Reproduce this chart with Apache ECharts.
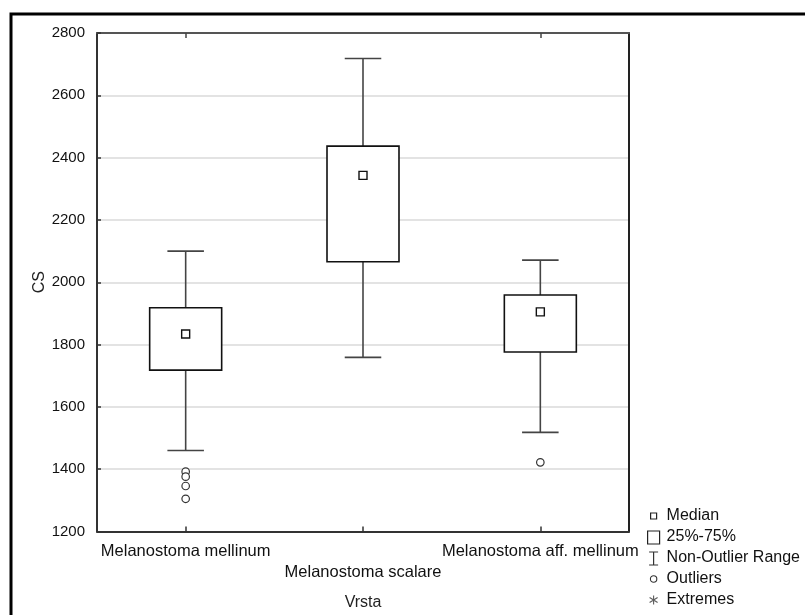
<!DOCTYPE html>
<html>
<head>
<meta charset="utf-8">
<script src="https://cdn.jsdelivr.net/npm/echarts@6/dist/echarts.min.js"></script>
<style>
html,body{margin:0;padding:0;background:#fff;}
#chart{width:805px;height:615px;}
</style>
</head>
<body>
<div id="chart"></div>
<script>
// ---- data ----
var categories = ['Melanostoma mellinum', 'Melanostoma scalare', 'Melanostoma aff. mellinum'];
var whiskerLow  = [1460, 1759, 1518];
var q1          = [1718, 2066, 1776];
var median      = [1834, 2343, 1905];
var q3          = [1918, 2437, 1959];
var whiskerHigh = [2100, 2718, 2071];
var outlierCat  = [0, 0, 0, 0, 2];
var outlierVal  = [1392, 1376, 1346, 1305, 1422];
var yMin = 1200, yMax = 2800, yStep = 200;
var legendNames = ['Median', '25%-75%', 'Non-Outlier Range', 'Outliers', 'Extremes'];

var FONT = '"Liberation Sans", Arial, sans-serif';

var boxData = categories.map(function (c, i) {
  return [i, whiskerLow[i], q1[i], q3[i], whiskerHigh[i]];
});
var medianData = categories.map(function (c, i) { return [i, median[i]]; });
var outlierData = outlierVal.map(function (v, i) { return [outlierCat[i], v]; });

function renderWhisker(params, api) {
  var x = api.value(0);
  var pLow = api.coord([x, api.value(1)]);
  var pQ1 = api.coord([x, api.value(2)]);
  var pQ3 = api.coord([x, api.value(3)]);
  var pHigh = api.coord([x, api.value(4)]);
  var band = api.size([1, 0])[0];
  var capHalf = band * 0.103;
  var st = { stroke: '#444', lineWidth: 1.6 };
  return {
    type: 'group',
    children: [
      { type: 'line', shape: { x1: pHigh[0], y1: pHigh[1], x2: pQ3[0], y2: pQ3[1] }, style: st },
      { type: 'line', shape: { x1: pHigh[0] - capHalf, y1: pHigh[1], x2: pHigh[0] + capHalf, y2: pHigh[1] }, style: st },
      { type: 'line', shape: { x1: pLow[0], y1: pLow[1], x2: pQ1[0], y2: pQ1[1] }, style: st },
      { type: 'line', shape: { x1: pLow[0] - capHalf, y1: pLow[1], x2: pLow[0] + capHalf, y2: pLow[1] }, style: st }
    ]
  };
}

function renderBox(params, api) {
  var x = api.value(0);
  var pQ1 = api.coord([x, api.value(2)]);
  var pQ3 = api.coord([x, api.value(3)]);
  var band = api.size([1, 0])[0];
  var half = band * 0.203;
  return {
    type: 'rect',
    shape: { x: pQ3[0] - half, y: pQ3[1], width: half * 2, height: pQ1[1] - pQ3[1] },
    style: { fill: '#fff', stroke: '#111', lineWidth: 1.6 }
  };
}

var chart = echarts.init(document.getElementById('chart'), null, { renderer: 'canvas' });

var option = {
  backgroundColor: '#fff',
  animation: false,
  textStyle: { fontFamily: FONT },
  grid: { left: 97, right: 176, top: 33, bottom: 83.5, containLabel: false, outerBoundsMode: 'none' },
  graphic: [
    { type: 'rect', shape: { x: 11, y: 14, width: 820, height: 640 },
      style: { fill: 'none', stroke: '#000', lineWidth: 3 }, silent: true, z: 100 }
  ],
  legend: {
    orient: 'vertical',
    left: 646,
    top: 508,
    itemWidth: 14,
    itemHeight: 14,
    itemGap: 5,
    selectedMode: false,
    padding: 0,
    textStyle: { fontFamily: FONT, fontSize: 16, color: '#111', padding: [0, 0, 0, 1] },
    data: [
      { name: 'Median', icon: 'path://M0,0M14,14M4,4h6v6h-6z',
        itemStyle: { color: '#fff', borderColor: '#222', borderWidth: 1.2 } },
      { name: '25%-75%', icon: 'path://M0,0M14,14M1,1h12v13h-12z',
        itemStyle: { color: '#fff', borderColor: '#222', borderWidth: 1.2 } },
      { name: 'Non-Outlier Range', icon: 'path://M0,0M14,14M2.5,1h9M7,1v13M2.5,14h9',
        itemStyle: { color: 'transparent', borderColor: '#333', borderWidth: 1.2 } },
      { name: 'Outliers', icon: 'path://M0,0M14,14M10.2,7A3.2,3.2,0,1,1,3.8,7A3.2,3.2,0,1,1,10.2,7z',
        itemStyle: { color: '#fff', borderColor: '#333', borderWidth: 1.1 } },
      { name: 'Extremes', icon: 'path://M0,0M14,14M7,2.5v9M3,4.5l8,5M3,9.5l8,-5',
        itemStyle: { color: 'transparent', borderColor: '#333', borderWidth: 1.1 } }
    ]
  },
  xAxis: [
    {
      type: 'category',
      data: categories,
      position: 'bottom',
      boundaryGap: true,
      name: 'Vrsta',
      nameLocation: 'middle',
      nameGap: 63,
      nameMoveOverlap: false,
      nameTextStyle: { fontFamily: FONT, fontSize: 16, color: '#222' },
      axisLine: { show: true, lineStyle: { color: '#333', width: 2 } },
      axisTick: { show: true, inside: true, alignWithLabel: true, length: 5, lineStyle: { color: '#333', width: 1.5 } },
      axisLabel: {
        interval: 0,
        hideOverlap: false,
        fontFamily: FONT, fontSize: 16.5, color: '#111',
        margin: 9, lineHeight: 21, verticalAlign: 'top',
        formatter: function (v, i) { return i === 1 ? '\n' + v : v; }
      },
      splitLine: { show: false }
    },
    {
      type: 'category',
      data: categories,
      position: 'top',
      boundaryGap: true,
      axisLine: { show: true, lineStyle: { color: '#555', width: 2 } },
      axisTick: { show: true, inside: true, alignWithLabel: true, length: 5, lineStyle: { color: '#444', width: 1.5 } },
      axisLabel: { show: false },
      splitLine: { show: false }
    }
  ],
  yAxis: [
    {
      type: 'value',
      min: yMin, max: yMax, interval: yStep,
      position: 'left',
      name: 'CS',
      nameLocation: 'middle',
      nameGap: 49,
      nameMoveOverlap: false,
      nameRotate: 90,
      nameTextStyle: { fontFamily: FONT, fontSize: 16, color: '#222' },
      axisLine: { show: true, lineStyle: { color: '#333', width: 2 } },
      axisTick: { show: true, inside: true, length: 4, lineStyle: { color: '#333', width: 1.5 } },
      axisLabel: { fontFamily: FONT, fontSize: 15, color: '#111', margin: 12,
        formatter: function (v) { return String(v); } },
      splitLine: { show: true, lineStyle: { color: '#dadada', width: 1.5 } }
    },
    {
      type: 'value',
      min: yMin, max: yMax, interval: yStep,
      position: 'right',
      axisLine: { show: true, lineStyle: { color: '#222', width: 2 } },
      axisTick: { show: false },
      axisLabel: { show: false },
      splitLine: { show: false }
    }
  ],
  series: [
    {
      name: 'Non-Outlier Range',
      type: 'custom',
      xAxisIndex: 0, yAxisIndex: 0,
      renderItem: renderWhisker,
      encode: { x: 0, y: [1, 2, 3, 4] },
      data: boxData,
      z: 2
    },
    {
      name: '25%-75%',
      type: 'custom',
      xAxisIndex: 0, yAxisIndex: 0,
      renderItem: renderBox,
      encode: { x: 0, y: [1, 2, 3, 4] },
      data: boxData,
      z: 3
    },
    {
      name: 'Median',
      type: 'scatter',
      symbol: 'rect',
      symbolSize: 8,
      itemStyle: { color: '#fff', borderColor: '#111', borderWidth: 1.4, opacity: 1 },
      data: medianData,
      z: 4
    },
    {
      name: 'Outliers',
      type: 'scatter',
      symbol: 'circle',
      symbolSize: 7.5,
      itemStyle: { color: '#fff', borderColor: '#333', borderWidth: 1.2, opacity: 1 },
      data: outlierData,
      z: 4
    },
    {
      name: 'Extremes',
      type: 'scatter',
      symbol: 'path://M7,3v8M3.5,5l7,4M3.5,9l7,-4',
      symbolSize: 8,
      itemStyle: { color: 'transparent', borderColor: '#333', borderWidth: 1 },
      data: [],
      z: 4
    }
  ]
};
chart.setOption(option);
</script>
</body>
</html>
